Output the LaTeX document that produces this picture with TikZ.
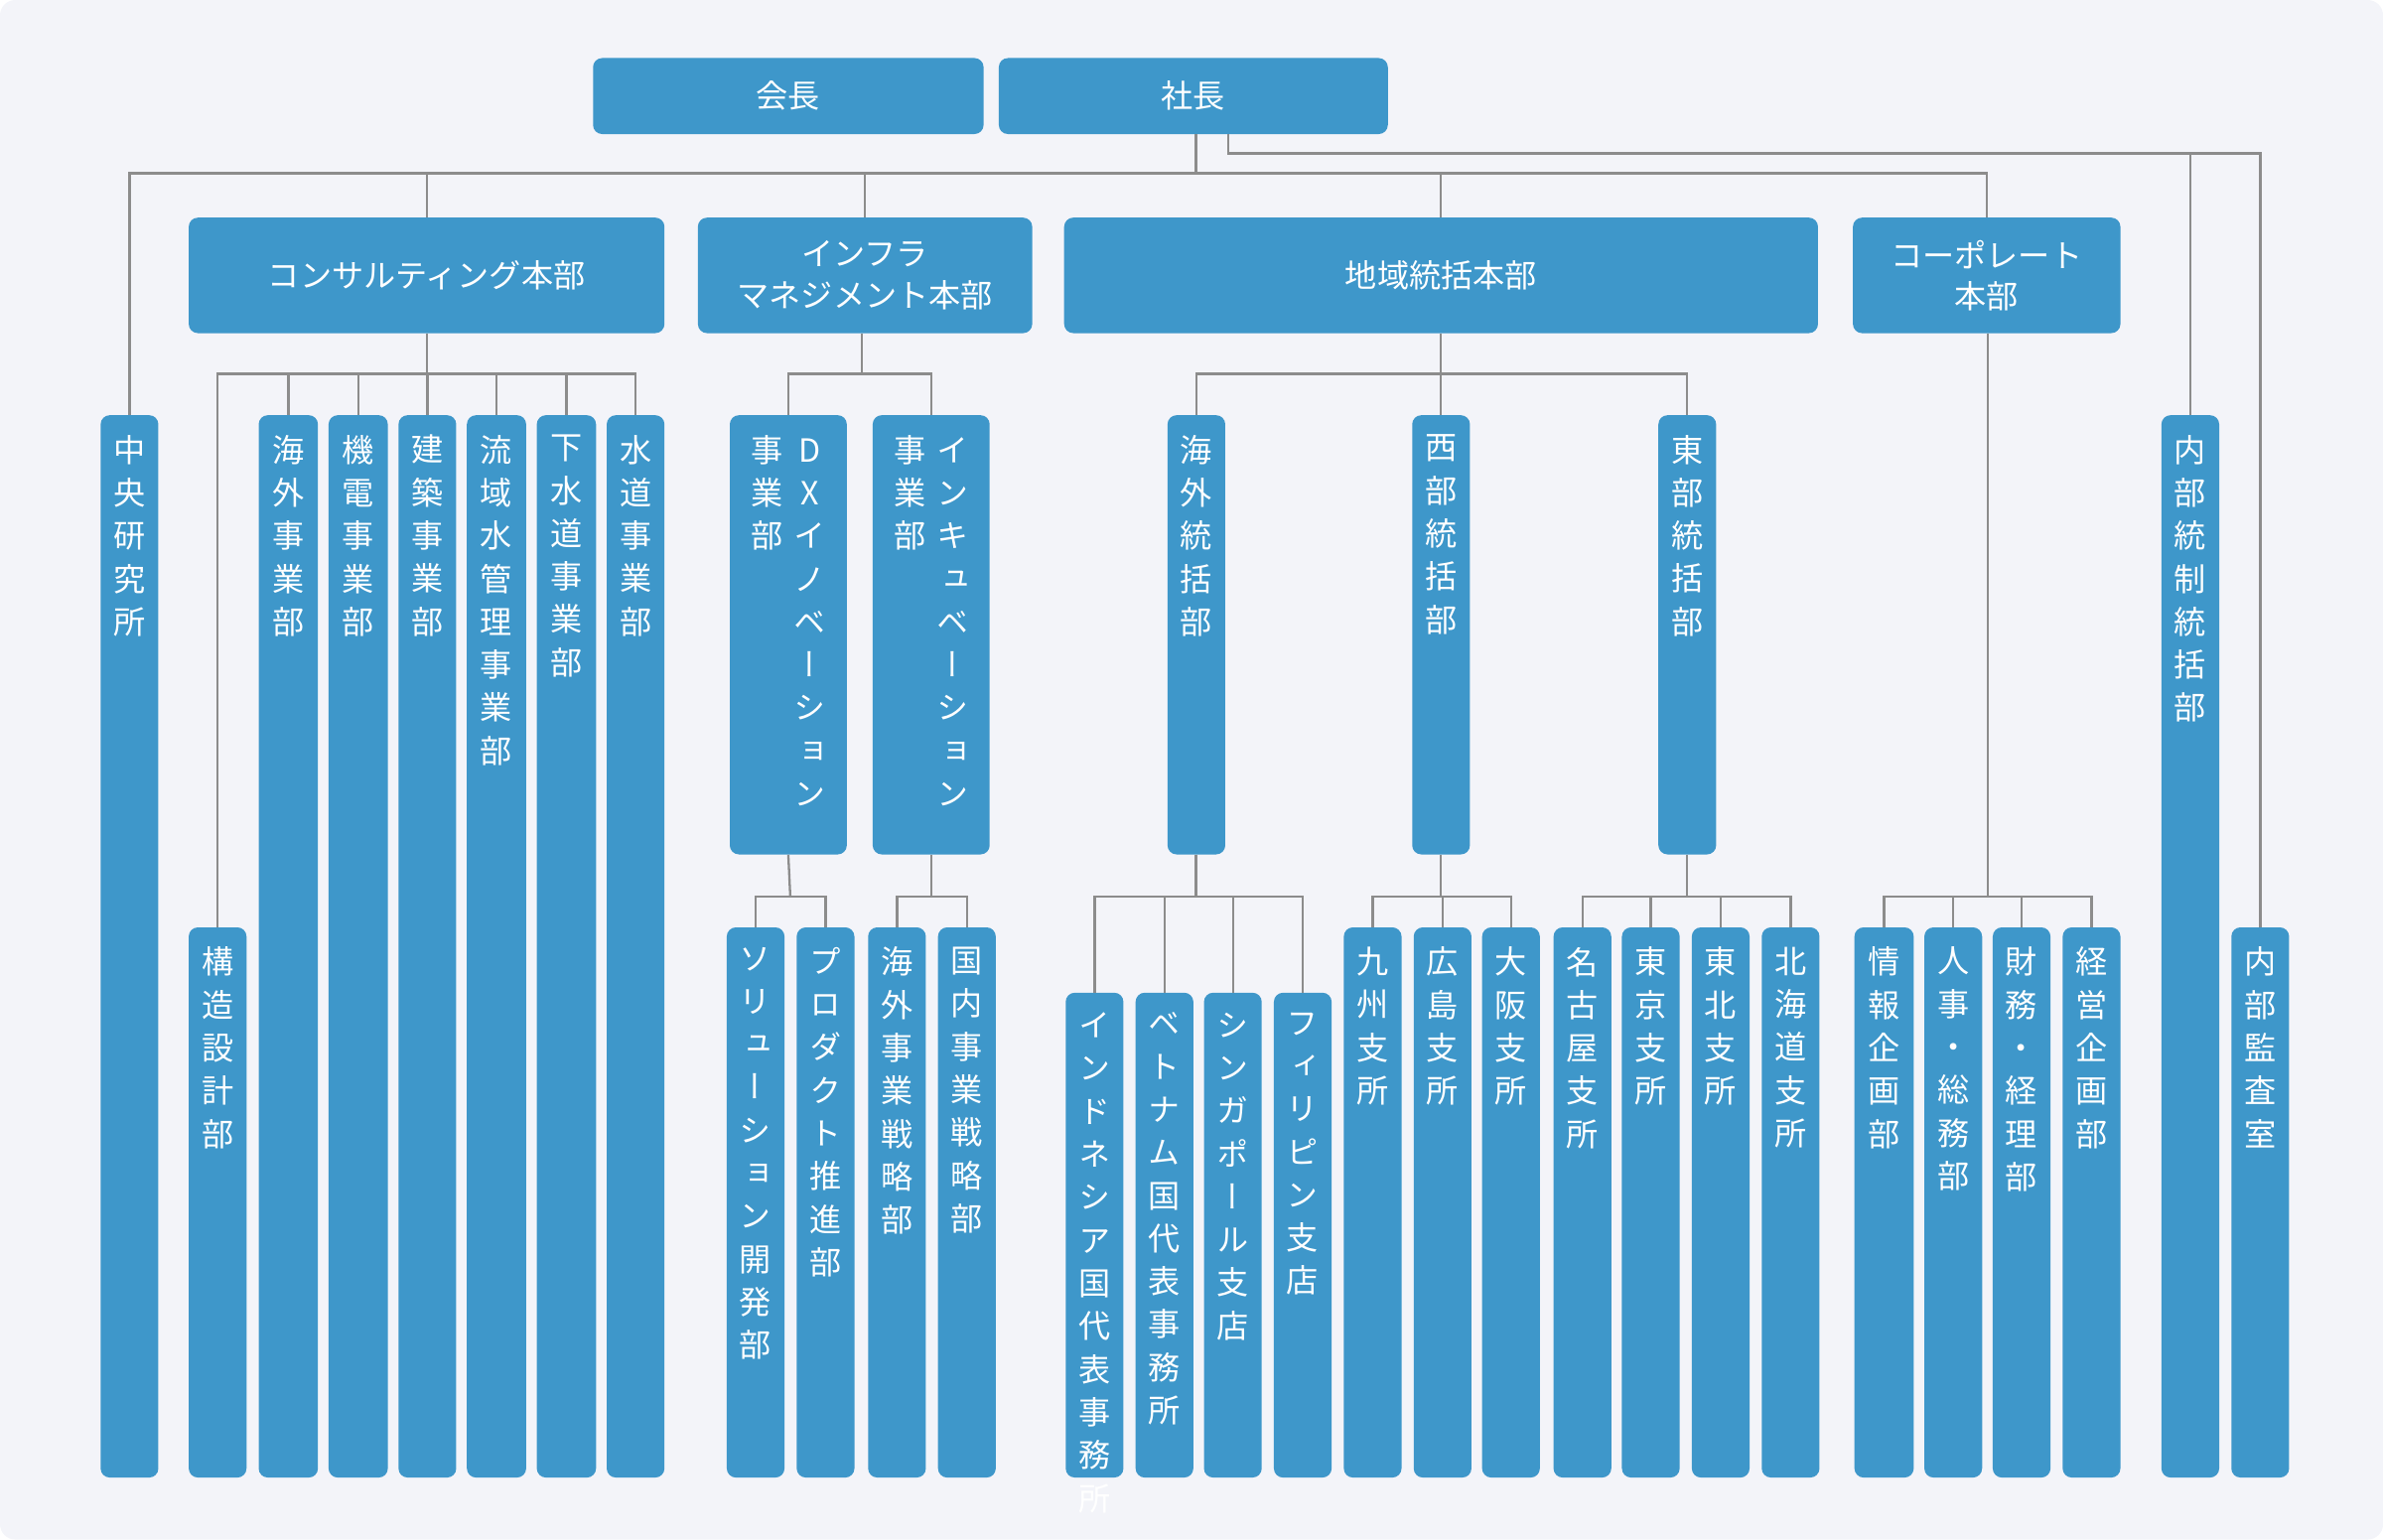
\documentclass[tikz,border=0pt]{standalone}
\usepackage{fontspec}
\setmainfont{Noto Sans CJK JP}
\newfontfamily\vfont[RawFeature=+vert]{Noto Sans CJK JP}
\definecolor{boxc}{HTML}{3E97CA}
\definecolor{linec}{HTML}{8C8C8C}
\definecolor{bgc}{HTML}{F3F4F9}
\def\vtloop#1#2\endvt{\hbox to 24pt{\hss#1\hss}\ifx\relax#2\relax\else\vtloop#2\endvt\fi}
\newcommand{\vcolumn}[1]{\vtop{\baselineskip=28.3pt\lineskiplimit=-100pt\vtloop#1\relax\endvt}}
\tikzset{
  bx/.style={fill=boxc,rounded corners=6pt,inner sep=0pt,text=white,anchor=north west,font=\fontsize{21}{27}\selectfont},
  ln/.style={draw=linec,line width=1.5pt}
}
% \vb{name}{x1}{y1}{x2}{y2}{col}
\newcommand{\vb}[6]{%
  \pgfmathsetmacro\bw{#4-#2}\pgfmathsetmacro\bh{#5-#3}\pgfmathsetmacro\ih{#5-#3-2}%
  \node[bx,minimum width=\bw pt,minimum height=\bh pt] (#1) at (#2,#3)
   {\vfont\vbox to \ih pt{\vskip 12pt\hbox{#6}\vfill}};}
\newcommand{\hb}[6]{%
  \pgfmathsetmacro\bw{#4-#2}\pgfmathsetmacro\bh{#5-#3}%
  \node[bx,minimum width=\bw pt,minimum height=\bh pt,align=center] (#1) at (#2,#3) {#6};}
\begin{document}
\begin{tikzpicture}[x=1pt,y=-1pt]
\fill[bgc,rounded corners=10pt] (0,0) rectangle (1568,1013);
\useasboundingbox (0,0) rectangle (1568,1013);
% top
\hb{kaicho}{390}{38}{647}{88}{会長}
\hb{shacho}{657}{38}{913}{88}{社長}
% level 2
\hb{consul}{124}{143}{437}{219}{コンサルティング本部}
\hb{infra}{459}{143}{679}{219}{インフラ\\マネジメント本部}
\hb{chiiki}{700}{143}{1196}{219}{地域統括本部}
\hb{corp}{1219}{143}{1395}{219}{コーポレート\\本部}
% columns
\vb{chuo}{66}{273}{104}{972}{\vcolumn{中央研究所}}
\vb{kozo}{124}{610}{162}{972}{\vcolumn{構造設計部}}
\vb{kaigai}{170}{273}{209}{972}{\vcolumn{海外事業部}}
\vb{kiden}{216}{273}{255}{972}{\vcolumn{機電事業部}}
\vb{kenchiku}{262}{273}{300}{972}{\vcolumn{建築事業部}}
\vb{ryuiki}{307}{273}{346}{972}{\vcolumn{流域水管理事業部}}
\vb{gesui}{353}{273}{392}{972}{\vcolumn{下水道事業部}}
\vb{suido}{399}{273}{437}{972}{\vcolumn{水道事業部}}
\vb{dx}{480}{273}{557}{562}{\vcolumn{事業部}\hskip 4pt\vcolumn{DXイノベーション}}
\vb{incu}{574}{273}{651}{562}{\vcolumn{事業部}\hskip 4pt\vcolumn{インキュベーション}}
\vb{sol}{478}{610}{516}{972}{\vcolumn{ソリューション開発部}}
\vb{prod}{524}{610}{562}{972}{\vcolumn{プロダクト推進部}}
\vb{kaisen}{571}{610}{609}{972}{\vcolumn{海外事業戦略部}}
\vb{kokusen}{617}{610}{655}{972}{\vcolumn{国内事業戦略部}}
\vb{kaito}{768}{273}{806}{562}{\vcolumn{海外統括部}}
\vb{seibu}{929}{273}{967}{562}{\vcolumn{西部統括部}}
\vb{tobu}{1091}{273}{1129}{562}{\vcolumn{東部統括部}}
\vb{indo}{701}{653}{739}{972}{\vcolumn{インドネシア国代表事務所}}
\vb{viet}{747}{653}{785}{972}{\vcolumn{ベトナム国代表事務所}}
\vb{sing}{792}{653}{830}{972}{\vcolumn{シンガポール支店}}
\vb{phil}{838}{653}{876}{972}{\vcolumn{フィリピン支店}}
\vb{kyushu}{884}{610}{922}{972}{\vcolumn{九州支所}}
\vb{hiro}{930}{610}{968}{972}{\vcolumn{広島支所}}
\vb{osaka}{975}{610}{1013}{972}{\vcolumn{大阪支所}}
\vb{nago}{1022}{610}{1060}{972}{\vcolumn{名古屋支所}}
\vb{tokyo}{1067}{610}{1105}{972}{\vcolumn{東京支所}}
\vb{tohoku}{1113}{610}{1151}{972}{\vcolumn{東北支所}}
\vb{hokkai}{1159}{610}{1197}{972}{\vcolumn{北海道支所}}
\vb{joho}{1220}{610}{1259}{972}{\vcolumn{情報企画部}}
\vb{jinji}{1266}{610}{1304}{972}{\vcolumn{人事・総務部}}
\vb{zaimu}{1311}{610}{1349}{972}{\vcolumn{財務・経理部}}
\vb{keiei}{1357}{610}{1395}{972}{\vcolumn{経営企画部}}
\vb{naibu}{1422}{273}{1460}{972}{\vcolumn{内部統制統括部}}
\vb{kansa}{1468}{610}{1506}{972}{\vcolumn{内部監査室}}
% connectors
\coordinate (j1) at (787,114);
\coordinate (j2) at (808,101);
\draw[ln] (j1 |- shacho.south) -- (j1);
\foreach \n in {chuo,consul,infra,chiiki,corp} \draw[ln] (j1) -| (\n.north);
\draw[ln] (j2 |- shacho.south) -- (j2) -| (kansa.north);
\draw[ln] (j2) -| (naibu.north);
\coordinate (c1) at (281,246);
\draw[ln] (c1 |- consul.south) -- (c1);
\foreach \n in {kozo,kaigai,kiden,kenchiku,ryuiki,gesui,suido} \draw[ln] (c1) -| (\n.north);
\coordinate (i1) at (567,246);
\draw[ln] (i1 |- infra.south) -- (i1);
\foreach \n in {dx,incu} \draw[ln] (i1) -| (\n.north);
\coordinate (d1) at (520,590);
\draw[ln] (dx.south) -- (d1);
\foreach \n in {sol,prod} \draw[ln] (d1) -| (\n.north);
\coordinate (u1) at (613,590);
\draw[ln] (u1 |- incu.south) -- (u1);
\foreach \n in {kaisen,kokusen} \draw[ln] (u1) -| (\n.north);
\coordinate (r1) at (948,246);
\draw[ln] (r1 |- chiiki.south) -- (r1);
\foreach \n in {kaito,seibu,tobu} \draw[ln] (r1) -| (\n.north);
\coordinate (k1) at (787,590);
\draw[ln] (k1 |- kaito.south) -- (k1);
\foreach \n in {indo,viet,sing,phil} \draw[ln] (k1) -| (\n.north);
\coordinate (w1) at (948,590);
\draw[ln] (w1 |- seibu.south) -- (w1);
\foreach \n in {kyushu,hiro,osaka} \draw[ln] (w1) -| (\n.north);
\coordinate (e1) at (1110,590);
\draw[ln] (e1 |- tobu.south) -- (e1);
\foreach \n in {nago,tokyo,tohoku,hokkai} \draw[ln] (e1) -| (\n.north);
\coordinate (p1) at (1308,590);
\draw[ln] (p1 |- corp.south) -- (p1);
\foreach \n in {joho,jinji,zaimu,keiei} \draw[ln] (p1) -| (\n.north);
\end{tikzpicture}
\end{document}
